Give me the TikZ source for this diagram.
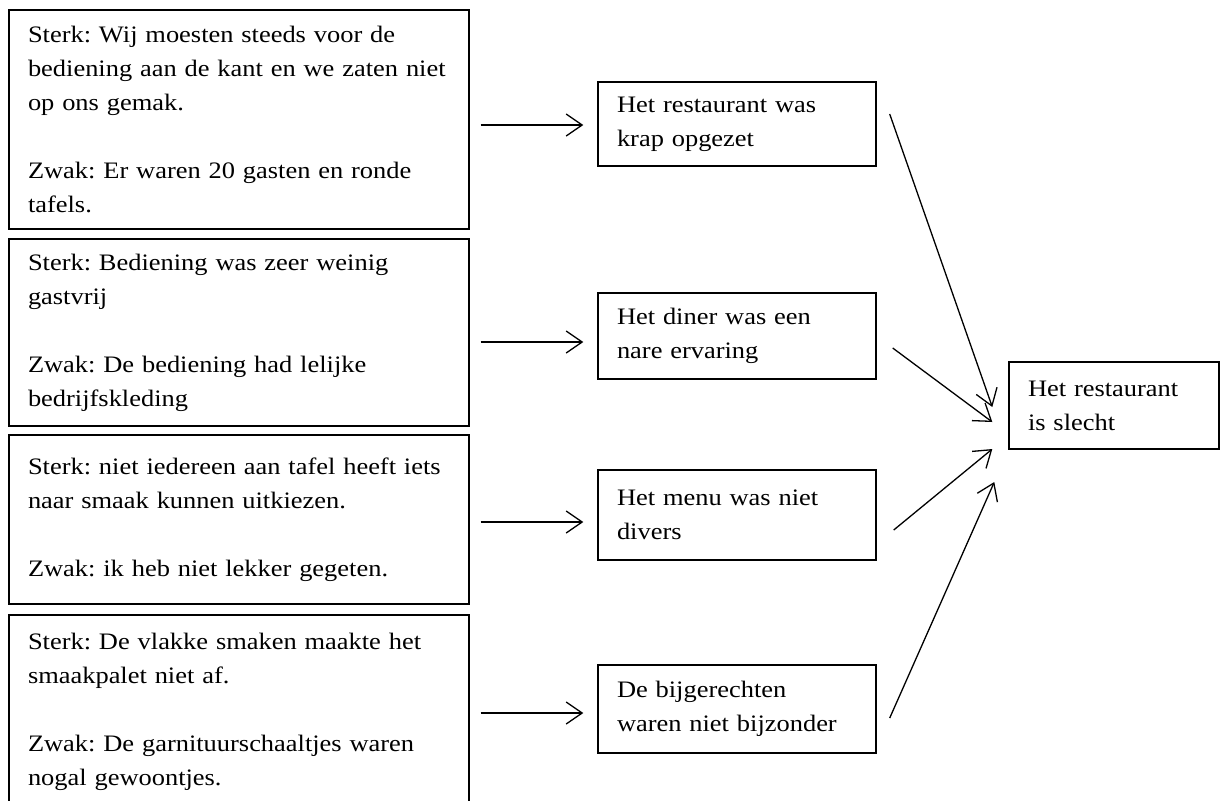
\documentclass[tikz,border=0pt]{standalone}
\usepackage{fontspec}
\setmainfont[FakeStretch=1.12]{Liberation Serif}
\usetikzlibrary{arrows.meta}
\frenchspacing

\begin{document}
\begin{tikzpicture}[
    x=0.5pt, y=-0.5pt,
    font={\fontsize{11.8pt}{17pt}\selectfont},
    box/.style={draw,line width=0.7pt,align=left,inner xsep=9.5pt,inner ysep=0pt},
    arg/.style={box,text width=211pt,minimum width=230pt},
    claim/.style={box,text width=120pt,minimum width=139pt},
    verdict/.style={box,text width=86pt,minimum width=105pt},
    arr/.style={line width=0.65pt,-{Straight Barb[length=8pt,width=11pt]}},
]

    \useasboundingbox (0,0) rectangle (1221,800);
    \clip (0,0) rectangle (1221,800);

    \node[arg,minimum height=109.5pt] (arg1) at (239,119.5)
        {Sterk: Wij moesten steeds voor de\\ bediening aan de kant en we zaten niet\\ op ons gemak.\\[17pt] Zwak: Er waren 20 gasten en ronde\\ tafels.};
    \node[arg,minimum height=93.5pt]  (arg2) at (239,332.5)
        {Sterk: Bediening was zeer weinig\\ gastvrij\\[17pt] Zwak: De bediening had lelijke\\ bedrijfskleding};
    \node[arg,minimum height=84.5pt]  (arg3) at (239,519.5)
        {Sterk: niet iedereen aan tafel heeft iets\\ naar smaak kunnen uitkiezen.\\[17pt] Zwak: ik heb niet lekker gegeten.};
    \node[arg,minimum height=97pt]    (arg4) at (239,712)
        {Sterk: De vlakke smaken maakte het\\ smaakpalet niet af.\\[17pt] Zwak: De garnituurschaaltjes waren\\ nogal gewoontjes.};

    \node[claim,minimum height=42pt] (claim1) at (737,124) {Het restaurant was\\ krap opgezet};
    \node[claim,minimum height=43pt] (claim2) at (737,336) {Het diner was een\\ nare ervaring};
    \node[claim,minimum height=45pt] (claim3) at (737,515) {Het menu was niet\\ divers};
    \node[claim,minimum height=44pt] (claim4) at (737,709) {De bijgerechten\\ waren niet bijzonder};

    \node[verdict,minimum height=43.5pt] (verdict) at (1114,405.5) {Het restaurant\\ is slecht};

    \draw[arr] ([shift={(11,5.5)}]arg1.east) -- ([shift={(-14,1)}]claim1.west);
    \draw[arr] ([shift={(11,9.5)}]arg2.east) -- ([shift={(-14,6)}]claim2.west);
    \draw[arr] ([shift={(11,2.5)}]arg3.east) -- ([shift={(-14,7)}]claim3.west);
    \draw[arr] ([shift={(11,1)}]arg4.east)   -- ([shift={(-14,4)}]claim4.west);

    \draw[arr] ([shift={(13,-10)}]claim1.east) -- ([shift={(-16,1.5)}]verdict.west);
    \draw[arr] ([shift={(16,12)}]claim2.east)  -- ([shift={(-16,16.5)}]verdict.west);
    \draw[arr] ([shift={(17,15)}]claim3.east)  -- ([shift={(-16,43.5)}]verdict.west);
    \draw[arr] ([shift={(13,9)}]claim4.east)   -- ([shift={(-14,76.5)}]verdict.west);

\end{tikzpicture}
\end{document}
